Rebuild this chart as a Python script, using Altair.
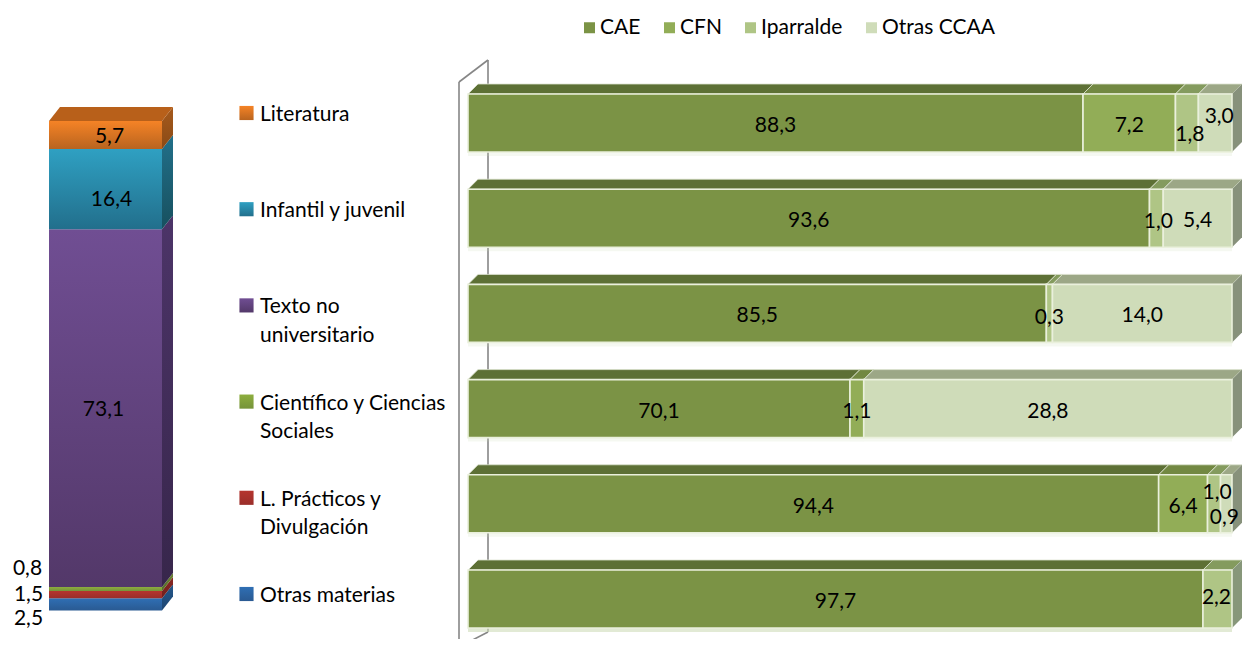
import altair as alt
import pandas as pd

FONT = "Lato"
FS = 21

# ---------- left stacked column ----------
subjects = ["Otras materias", "L. Prácticos y\nDivulgación", "Científico y Ciencias\nSociales",
            "Texto no\nuniversitario", "Infantil y juvenil", "Literatura"]
subject_values = [2.5, 1.5, 0.8, 73.1, 16.4, 5.7]
front_top = ["#2F6FB4", "#B5352F", "#8DAE3E", "#704E93", "#2FA0C2", "#F58326"]
front_bot = ["#2A5A92", "#9A2E2A", "#76933A", "#533869", "#226F8C", "#B9641F"]
side_top = ["#24578A", "#8A2825", "#6B8432", "#4C3468", "#22708A", "#A65A1C"]
side_bot = ["#1E4672", "#701F1C", "#556A28", "#37264B", "#17505F", "#8A4A16"]
subject_nudge = [(-77, 13), (-77, -2), (-78, -22), (-2, 0), (6, 9), (4, 0)]
left_top_colour = "#B8601A"

# ---------- right stacked bars (lengths as drawn, labels as printed) ----------
series = ["CAE", "CFN", "Iparralde", "Otras CCAA"]
series_colours = ["#7B9345", "#92AD57", "#AFC585", "#CFDCB9"]
top_colours = ["#5D7035", "#728842", "#849B5E", "#9CA786"]
side_colours = ["#5F7036", "#72854A", "#87977A", "#87917B"]
cae_len = [80.5, 89.2, 75.7, 50.0, 90.4, 96.2]
cfn_len = [12.1, 0.0, 0.0, 1.8, 6.4, 0.0]
ipa_len = [3.0, 1.8, 0.8, 0.0, 1.7, 3.8]
otr_len = [4.4, 9.0, 23.5, 48.2, 1.5, 0.0]
cae_lab = [88.3, 93.6, 85.5, 70.1, 94.4, 97.7]
cfn_lab = [7.2, None, None, 1.1, 6.4, None]
ipa_lab = [1.8, 1.0, 0.3, None, 1.0, 2.2]
otr_lab = [3.0, 5.4, 14.0, 28.8, 0.9, None]
label_nudge = {(0, 2): (3, 10), (0, 3): (4, -8), (1, 2): (2, 2), (2, 2): (0, 3),
               (4, 2): (3, -13), (4, 3): (-2, 12), (5, 2): (-1, -3)}

# ---------- geometry helpers (page pixels minus the 8px margin) ----------
def p(v):
    return v - 8

R_END = 1232
R_PX = (R_END - 468) / 100
L_X = ([0, 1], [p(49), p(162)])
L_Y = ([0, 100], [p(610.5), p(121)])
R_X = ([0, 100], [p(468), p(R_END)])
R_Y = ([0, 5], [p(94), p(570)])
px_per_row = 95.2
R_DX, R_DY = 10 / R_PX, 10 / px_per_row
BAR_H = 58 / px_per_row
L_DX, L_DY = 11 / 113, 14 / 4.89


def X(field, dom):
    return alt.X(field, type="quantitative", scale=alt.Scale(domain=dom[0], range=dom[1]), axis=None)


def Y(field, dom):
    return alt.Y(field, type="quantitative", scale=alt.Scale(domain=dom[0], range=dom[1]), axis=None)


def grad(a, b):
    return {"gradient": "linear", "x1": 0, "x2": 0, "y1": 0, "y2": 1,
            "stops": [{"offset": 0, "color": a}, {"offset": 1, "color": b}]}


def fmt(v):
    return f"{v:.1f}".replace(".", ",")


layers = []

# ----- left column -----
bottom = 0.0
left_labels = []
for i, v in enumerate(subject_values):
    top = bottom + v
    seg = pd.DataFrame([{"x": 0, "x2": 1, "y": bottom, "y2": top}])
    side = pd.DataFrame([{"x": 1, "y": bottom, "y2": top},
                         {"x": 1 + L_DX, "y": bottom + L_DY, "y2": top + L_DY}])
    layers.append(alt.Chart(side).mark_area(orient="vertical", fill=grad(side_top[i], side_bot[i])).encode(
        x=X("x", L_X), y=Y("y", L_Y), y2="y2"))
    layers.append(alt.Chart(seg).mark_rect(fill=grad(front_top[i], front_bot[i])).encode(
        x=X("x", L_X), x2="x2", y=Y("y", L_Y), y2="y2"))
    dx, dy = subject_nudge[i]
    left_labels.append({"x": 0.5 + dx / 113, "y": (bottom + top) / 2 - dy / 4.89, "t": fmt(v)})
    bottom = top
lid = pd.DataFrame([{"x": 0, "x2": 1, "y": bottom},
                    {"x": L_DX, "x2": 1 + L_DX, "y": bottom + L_DY}])
layers.append(alt.Chart(lid).mark_area(orient="horizontal", color=left_top_colour).encode(
    y=Y("y", L_Y), x=X("x", L_X), x2="x2"))
layers.append(alt.Chart(pd.DataFrame(left_labels)).mark_text(font=FONT, fontSize=FS, color="black", dy=2).encode(
    x=X("x", L_X), y=Y("y", L_Y), text="t:N"))

# ----- middle legend -----
LEG_Y = ([0, 5], [p(594), p(113)])
legend_rows = pd.DataFrame({"r": list(range(6)), "s": subjects})
for i in range(6):
    layers.append(alt.Chart(legend_rows[legend_rows.r == i]).mark_square(
        size=200, opacity=1, fill=grad(front_top[i], front_bot[i]), stroke=None).encode(
        x=alt.value(p(246.5)), y=Y("r", LEG_Y)))
layers.append(alt.Chart(legend_rows).mark_text(
    font=FONT, fontSize=FS, color="black", align="left", baseline="top", dy=-9,
    lineBreak="\n", lineHeight=28.5).encode(x=alt.value(p(260)), y=Y("r", LEG_Y), text="s:N"))

# ----- wall of the right chart -----
wall = pd.DataFrame([
    {"id": "front", "x": -9 / R_PX, "y": (82 - 94) / px_per_row},
    {"id": "front", "x": -9 / R_PX, "y": (647 - 94) / px_per_row},
    {"id": "back", "x": 20 / R_PX, "y": (60 - 94) / px_per_row},
    {"id": "back", "x": 20 / R_PX, "y": (632 - 94) / px_per_row},
    {"id": "top", "x": -9 / R_PX, "y": (82 - 94) / px_per_row},
    {"id": "top", "x": 20 / R_PX, "y": (60 - 94) / px_per_row},
    {"id": "foot", "x": -9 / R_PX, "y": (647 - 94) / px_per_row},
    {"id": "foot", "x": 20 / R_PX, "y": (632 - 94) / px_per_row},
])
layers.append(alt.Chart(wall).mark_line(color="#868686", strokeWidth=1.6).encode(
    x=X("x", R_X), y=Y("y", R_Y), detail="id:N"))

# ----- right bars -----
lens = [cae_len, cfn_len, ipa_len, otr_len]
labs = [cae_lab, cfn_lab, ipa_lab, otr_lab]
fronts, tops, sides, texts = [], [], [], []
for r in range(6):
    start = 0.0
    last = None
    for s in range(4):
        w = lens[s][r]
        if w <= 0:
            continue
        end = start + w
        fronts.append({"serie": series[s], "x": start, "x2": end, "y": r, "y2": r + BAR_H})
        uid = f"{r}-{s}"
        tops.append({"id": uid, "c": top_colours[s], "x": start, "x2": end, "y": r})
        tops.append({"id": uid, "c": top_colours[s], "x": start + R_DX, "x2": end + R_DX, "y": r - R_DY})
        nx, ny = label_nudge.get((r, s), (0, 1))
        texts.append({"x": (start + end) / 2 + nx / R_PX, "y": r + BAR_H / 2 + ny / px_per_row, "t": fmt(labs[s][r])})
        start = end
        last = s
    sides.append({"id": r, "c": side_colours[last], "x": 100, "y": r, "y2": r + BAR_H})
    sides.append({"id": r, "c": side_colours[last], "x": 100 + R_DX, "y": r - R_DY, "y2": r + BAR_H - R_DY})

shadow = pd.DataFrame(fronts).assign(y=lambda d: d.y2, y2=lambda d: d.y2 + 4 / px_per_row,
                                     o=lambda d: [0.6 if v >= 5 else 0.2 for v in d.y])
layers.append(alt.Chart(shadow).mark_rect().encode(
    x=X("x", R_X), x2="x2", y=Y("y", R_Y), y2="y2",
    color=alt.value("#CFDCB9"), opacity=alt.Opacity("o:Q", scale=None)))
layers.append(alt.Chart(pd.DataFrame(tops)).mark_area(orient="horizontal", stroke="#DDE3D0", strokeWidth=0.8).encode(
    y=Y("y", R_Y), x=X("x", R_X), x2="x2", detail="id:N", color=alt.Color("c:N", scale=None)))
layers.append(alt.Chart(pd.DataFrame(sides)).mark_area(orient="vertical").encode(
    x=X("x", R_X), y=Y("y", R_Y), y2="y2", detail="id:N", color=alt.Color("c:N", scale=None)))
layers.append(alt.Chart(pd.DataFrame(fronts)).mark_rect(stroke="#EAF0DC", strokeWidth=1.6).encode(
    x=X("x", R_X), x2="x2", y=Y("y", R_Y), y2="y2",
    color=alt.Color("serie:N", scale=alt.Scale(domain=series, range=series_colours),
                    legend=alt.Legend(orient="none", legendX=p(579), legendY=p(17), direction="horizontal",
                                      title=None, symbolType="square", symbolSize=121, symbolStrokeWidth=0,
                                      labelFont=FONT, labelFontSize=FS, labelColor="black",
                                      columnPadding=18, labelOffset=0))))
layers.append(alt.Chart(pd.DataFrame(texts)).mark_text(font=FONT, fontSize=FS, color="black", dy=2).encode(
    x=X("x", R_X), y=Y("y", R_Y), text="t:N"))

chart = alt.layer(*layers).resolve_scale(
    x="independent", y="independent", color="independent"
).properties(
    width=1234, height=631, padding=0, autosize=alt.AutoSizeParams(type="none")
).configure_view(stroke=None)

chart.save("out.html", embed_options={"renderer": "svg", "actions": False})
